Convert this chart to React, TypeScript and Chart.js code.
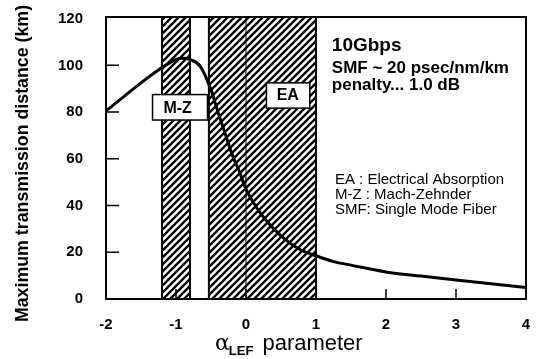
import React, { useEffect, useRef } from "react";
import { Chart, registerables } from "chart.js";

Chart.register(...registerables);

// ---- Data ----
const alphaValues = [-2, -1.75, -1.5, -1.25, -1.0, -0.9, -0.8, -0.65, -0.5, -0.4, -0.3, -0.2, -0.1, 0, 0.1, 0.25, 0.5, 0.75, 1.0, 1.25, 1.5, 2, 2.5, 3, 3.5, 4];
const distanceKm = [80.5, 86.5, 92.5, 98, 102.5, 103, 102.5, 99.5, 89.5, 80, 71, 62, 55, 47, 41.5, 35, 27, 21.5, 18.5, 16, 14.5, 11.6, 9.8, 8.1, 6.5, 4.9];
const xTickValues = [-2, -1, 0, 1, 2, 3, 4];
const yTickValues = [0, 20, 40, 60, 80, 100, 120];
const mzBand = [-1.2, -0.8];
const eaBand = [-0.53, 1.0];
const infoLines = ["10Gbps", "SMF ~ 20 psec/nm/km", "penalty... 1.0 dB"];
const legendLines = ["EA : Electrical Absorption", "M-Z : Mach-Zehnder", "SMF: Single Mode Fiber"];
const yTitle = "Maximum transmission distance (km)";

const SANS = 'Arial, "Liberation Sans", Helvetica, sans-serif';

function makeHatch(): CanvasPattern | string {
  const c = document.createElement("canvas");
  const s = 7;
  c.width = s;
  c.height = s;
  const g = c.getContext("2d");
  if (!g) return "#000";
  g.fillStyle = "#fff";
  g.fillRect(0, 0, s, s);
  g.strokeStyle = "#000";
  g.lineWidth = 2.3;
  g.beginPath();
  g.moveTo(-1, s + 1);
  g.lineTo(s + 1, -1);
  g.moveTo(-2, 2);
  g.lineTo(2, -2);
  g.moveTo(s - 2, s + 2);
  g.lineTo(s + 2, s - 2);
  g.stroke();
  const p = g.createPattern(c, "repeat");
  return p || "#000";
}

const decorPlugin = {
  id: "decor",
  beforeDatasetsDraw(chart: any) {
    const { ctx, chartArea, scales } = chart;
    const xs = scales.x;
    const hatch = makeHatch();
    ctx.save();
    [mzBand, eaBand].forEach((band) => {
      const x1 = xs.getPixelForValue(band[0]);
      const x2 = xs.getPixelForValue(band[1]);
      ctx.fillStyle = hatch;
      ctx.fillRect(x1, chartArea.top, x2 - x1, chartArea.bottom - chartArea.top);
      ctx.strokeStyle = "#000";
      ctx.lineWidth = 2;
      ctx.beginPath();
      ctx.moveTo(x1, chartArea.top);
      ctx.lineTo(x1, chartArea.bottom);
      ctx.moveTo(x2, chartArea.top);
      ctx.lineTo(x2, chartArea.bottom);
      ctx.stroke();
    });
    // thin line at alpha = 0
    const x0 = xs.getPixelForValue(0);
    ctx.lineWidth = 1;
    ctx.beginPath();
    ctx.moveTo(x0, chartArea.top);
    ctx.lineTo(x0, chartArea.bottom);
    ctx.stroke();
    ctx.restore();
  },
  afterDatasetsDraw(chart: any) {
    const { ctx, chartArea, scales } = chart;
    const xs = scales.x;
    const ys = scales.y;
    ctx.save();
    // frame
    ctx.strokeStyle = "#000";
    ctx.lineWidth = 2;
    ctx.strokeRect(chartArea.left, chartArea.top, chartArea.right - chartArea.left, chartArea.bottom - chartArea.top);
    // inward ticks
    ctx.lineWidth = 1.5;
    ctx.beginPath();
    yTickValues.forEach((v) => {
      if (v === 0 || v === 120) return;
      const py = ys.getPixelForValue(v);
      ctx.moveTo(chartArea.left, py);
      ctx.lineTo(chartArea.left + 13, py);
    });
    xTickValues.forEach((v) => {
      if (v === -2 || v === 4) return;
      const px = xs.getPixelForValue(v);
      ctx.moveTo(px, chartArea.bottom);
      ctx.lineTo(px, chartArea.bottom - 10);
    });
    ctx.stroke();

    // labelled boxes
    const box = (label: string, xa: number, xb: number, ya: number, yb: number, tx: number, ty: number, size: number) => {
      const l = xs.getPixelForValue(xa);
      const r = xs.getPixelForValue(xb);
      const t = ys.getPixelForValue(ya);
      const b = ys.getPixelForValue(yb);
      ctx.fillStyle = "#fff";
      ctx.fillRect(l, t, r - l, b - t);
      ctx.strokeStyle = "#000";
      ctx.lineWidth = 1.5;
      ctx.strokeRect(l, t, r - l, b - t);
      ctx.fillStyle = "#000";
      ctx.font = `bold ${size}px ${SANS}`;
      ctx.textAlign = "center";
      ctx.textBaseline = "middle";
      ctx.fillText(label, xs.getPixelForValue(tx), ys.getPixelForValue(ty));
    };
    box("M-Z", -1.335, -0.55, 87.5, 76.6, -0.977, 81.6, 16);
    box("EA", 0.292, 0.911, 92.5, 81.7, 0.597, 86.9, 16);

    // info text
    ctx.fillStyle = "#000";
    ctx.textAlign = "left";
    ctx.textBaseline = "middle";
    const infoY = [108.3, 98.7, 91.4];
    const infoSize = [19, 17, 17];
    infoLines.forEach((t, i) => {
      ctx.font = `bold ${infoSize[i]}px ${SANS}`;
      ctx.fillText(t, xs.getPixelForValue(1.226), ys.getPixelForValue(infoY[i]));
    });
    const legY = [50.9, 44.4, 38];
    ctx.font = `15px ${SANS}`;
    legendLines.forEach((t, i) => {
      ctx.fillText(t, xs.getPixelForValue(1.27), ys.getPixelForValue(legY[i]));
    });

    // y axis title
    ctx.save();
    ctx.translate(23, 163.5);
    ctx.rotate(-Math.PI / 2);
    ctx.textAlign = "center";
    ctx.textBaseline = "middle";
    ctx.font = `bold 17.8px ${SANS}`;
    ctx.fillText(yTitle, 0, 0);
    ctx.restore();

    // x axis title: alpha_LEF parameter
    const baseY = chartArea.bottom + 51;
    const startX = 215;
    ctx.textAlign = "left";
    ctx.textBaseline = "alphabetic";
    ctx.font = `22px "DejaVu Serif", "Liberation Serif", serif`;
    ctx.fillText("\u03B1", startX, baseY);
    const aw = ctx.measureText("\u03B1").width;
    ctx.font = `bold 13px ${SANS}`;
    ctx.fillText("LEF", startX + aw - 1, baseY + 5);
    const lw = ctx.measureText("LEF").width;
    ctx.font = `22px ${SANS}`;
    ctx.fillText("parameter", startX + aw - 1 + lw + 9, baseY);
    ctx.restore();
  },
};

export default function App() {
  const canvasRef = useRef<HTMLCanvasElement | null>(null);

  useEffect(() => {
    if (!canvasRef.current) return;
    const points = alphaValues.map((x, i) => ({ x, y: distanceKm[i] }));
    const chart = new Chart(canvasRef.current, {
      type: "line",
      data: {
        datasets: [
          {
            data: points,
            borderColor: "#000",
            borderWidth: 3,
            pointRadius: 0,
            fill: false,
            cubicInterpolationMode: "monotone",
          },
        ],
      },
      options: {
        animation: false,
        responsive: true,
        maintainAspectRatio: false,
        layout: { padding: { left: 0, right: 15, top: 17, bottom: 0 } },
        plugins: { legend: { display: false }, tooltip: { enabled: false } },
        scales: {
          x: {
            type: "linear",
            min: -2,
            max: 4,
            afterFit(s: any) {
              s.height = 60;
              s.paddingLeft = 0;
              s.paddingRight = 0;
            },
            afterBuildTicks(s: any) {
              s.ticks = xTickValues.map((v) => ({ value: v }));
            },
            grid: { display: false, drawTicks: false },
            border: { display: false },
            ticks: {
              padding: 17,
              color: "#000",
              maxRotation: 0,
              autoSkip: false,
              font: { family: SANS, size: 15, weight: "bold" },
            },
          },
          y: {
            type: "linear",
            min: 0,
            max: 120.7,
            afterFit(s: any) {
              s.width = 106;
              s.paddingTop = 0;
              s.paddingBottom = 0;
            },
            afterBuildTicks(s: any) {
              s.ticks = yTickValues.map((v) => ({ value: v }));
            },
            grid: { display: false, drawTicks: false },
            border: { display: false },
            ticks: {
              padding: 23,
              color: "#000",
              autoSkip: false,
              font: { family: SANS, size: 15, weight: "bold" },
            },
          },
        },
      },
      plugins: [decorPlugin],
    } as any);
    return () => chart.destroy();
  }, []);

  return (
    <div style={{ position: "fixed", left: 0, top: 0, width: 541, height: 359, background: "#fff" }}>
      <canvas ref={canvasRef} />
    </div>
  );
}
